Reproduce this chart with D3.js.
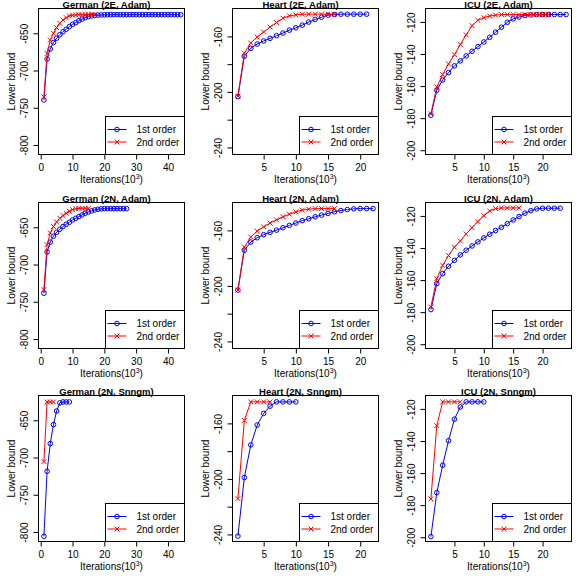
<!DOCTYPE html>
<html><head><meta charset="utf-8">
<script src="https://cdn.jsdelivr.net/npm/d3@7"></script>
<style>body{margin:0;background:#fff}svg{display:block}text{font-family:"Liberation Sans",Arial,Helvetica,sans-serif}</style>
</head><body><div id="chart"></div>
<script>
// ---- data (iterations in thousands: 1,2,3,...) ----
const germanAdam2E_first = [-739.5,-684.5,-671,-662.5,-656.7,-652,-648,-644.6,-641,-638,-635.7,-633,-631,-629,-627.6,-626.7,-626,-625.6,-625.4,-625.2,-625,-625,-625,-625,-625,-625,-625,-625,-625,-625,-625,-625,-625,-625,-625,-625,-625,-625,-625,-625,-625,-625,-625,-625];
const germanAdam2E_second = [-735.5,-677,-659,-650,-642.4,-636.6,-632,-629,-626.7,-625.8,-625.3,-625,-625,-625,-625,-625,-625];
const heartAdam2E_first = [-203.4,-174.3,-168.6,-165.5,-163.3,-161.4,-159.5,-157.6,-155.5,-153.8,-151.9,-149.7,-147.8,-146.2,-144.7,-144.2,-144,-144,-144,-144,-144];
const heartAdam2E_second = [-203,-172,-164.8,-160.5,-156.9,-153.3,-150,-146.9,-145.2,-144.5,-144,-144,-144,-144,-144,-144];
const icuAdam2E_first = [-178.2,-162.6,-156.2,-151.6,-147.4,-144.3,-141.2,-138.3,-135.4,-132.5,-129.6,-126.4,-123.3,-120.2,-118.1,-116.9,-116,-115.6,-115.4,-115.4,-115.4,-115.4,-115.4,-115.4];
const icuAdam2E_second = [-177.2,-160.5,-152.8,-146.2,-140.4,-134.1,-128.1,-122.3,-119,-117.3,-116.3,-115.8,-115.4,-115.4,-115.4,-115.4,-115.4,-115.4,-115.4,-115.4,-115.4];

const germanAdam2N_first = [-738.6,-683,-670,-662,-656.7,-652.7,-649,-646,-643.3,-640.2,-638,-635.7,-633.4,-631.2,-629.4,-628,-626.7,-625.8,-625.3,-625,-625,-625,-625,-625,-625,-625,-625];
const germanAdam2N_second = [-733.7,-673.3,-657.6,-649,-642.8,-638,-634.3,-631.2,-628.5,-626.3,-625,-624.6,-624.5,-624.5,-624.5];
const heartAdam2N_first = [-203,-174.3,-168.4,-165.3,-163.1,-161.4,-159.8,-158.1,-156.4,-154.7,-153,-151.6,-150.2,-149,-147.8,-146.6,-145.7,-145,-144.5,-144.3,-144.3,-144.3];
const heartAdam2N_second = [-203,-172,-164.8,-160.5,-157.4,-154.7,-152.4,-150.2,-148.3,-146.6,-145.4,-144.7,-144.3,-144.3,-144.3,-144.3];
const icuAdam2N_first = [-178.4,-162.2,-156,-151.4,-147.7,-144.3,-141.4,-138.7,-136.2,-133.7,-131.4,-129.1,-127.1,-124.8,-122.5,-120.4,-118.3,-116.7,-115.6,-115.2,-115.2,-115.2,-115.2];
const icuAdam2N_second = [-176.8,-159.1,-150.8,-144.7,-139.5,-135.6,-131.2,-127.3,-123.5,-119.8,-116.9,-115.4,-115,-115,-115,-115];

const germanSnngm2N_first = [-805.7,-718.5,-681.3,-655.8,-637.5,-626.7,-625.4,-625.4,-625.4];
const germanSnngm2N_second = [-705.5,-625.4,-625.4,-625.4];
const heartSnngm2N_first = [-241.2,-199,-175.5,-161.2,-152.8,-147.6,-144.5,-144.5,-144.5,-144.5];
const heartSnngm2N_second = [-214.2,-157.9,-144.5,-144.5,-144.5,-144.5];
const icuSnngm2N_first = [-199.6,-172.2,-155.1,-139.8,-126.4,-118.8,-115.6,-115.6,-115.6,-115.6];
const icuSnngm2N_second = [-176.1,-130.4,-115.6,-115.6,-115.6,-115.6];

// axis limits and ticks per dataset
const germanXlim = [1, 43.5], germanYlim = [-805.5, -624];
const heartXlim = [1, 22], heartYlim = [-241.2, -143.8];
const icuXlim = [1, 24], icuYlim = [-199.3, -115];
const germanXTicks = [0, 10, 20, 30, 40], germanYTicks = [-800, -750, -700, -650];
const heartXTicks = [5, 10, 15, 20], heartYTicks = [-240, -220, -200, -180, -160];
const heartYLabels = [-240, -200, -160];
const icuXTicks = [5, 10, 15, 20], icuYTicks = [-200, -180, -160, -140, -120];

const titles = [
  ["German (2E, Adam)", "Heart (2E, Adam)", "ICU (2E, Adam)"],
  ["German (2N, Adam)", "Heart (2N, Adam)", "ICU (2N, Adam)"],
  ["German (2N, Snngm)", "Heart (2N, Snngm)", "ICU (2N, Snngm)"]
];
const seriesNames = ["1st order", "2nd order"];
const colors = ["#0000FF", "#FF0000"];

const datasets = [
  {xlim: germanXlim, ylim: germanYlim, xt: germanXTicks, yt: germanYTicks, yl: germanYTicks, tshift: -5},
  {xlim: heartXlim, ylim: heartYlim, xt: heartXTicks, yt: heartYTicks, yl: heartYLabels, tshift: -5},
  {xlim: icuXlim, ylim: icuYlim, xt: icuXTicks, yt: icuYTicks, yl: icuYTicks, tshift: 0}
];
const grid = [
  [[germanAdam2E_first, germanAdam2E_second], [heartAdam2E_first, heartAdam2E_second], [icuAdam2E_first, icuAdam2E_second]],
  [[germanAdam2N_first, germanAdam2N_second], [heartAdam2N_first, heartAdam2N_second], [icuAdam2N_first, icuAdam2N_second]],
  [[germanSnngm2N_first, germanSnngm2N_second], [heartSnngm2N_first, heartSnngm2N_second], [icuSnngm2N_first, icuSnngm2N_second]]
];

const W = 581, H = 581, cell = W / 3;
const mL = 38, mT = 8, pw = 146, ph = 146;
const FS = 10;

const svg = d3.select("#chart").append("svg").attr("width", W).attr("height", H);

function expand(l) { const s = l[1] - l[0]; return [l[0] - 0.04 * s, l[1] + 0.04 * s]; }

for (let r = 0; r < 3; r++) {
  for (let c = 0; c < 3; c++) {
    const ds = datasets[c];
    const ox = Math.round(c * cell + mL) + 0.5, oy = Math.round(r * cell + mT) + 0.5;
    const g = svg.append("g").attr("transform", `translate(${ox},${oy})`);
    const x = d3.scaleLinear().domain(expand(ds.xlim)).range([0, pw]);
    const y = d3.scaleLinear().domain(expand(ds.ylim)).range([ph, 0]);

    // x axis
    const gx = g.append("g").attr("transform", `translate(0,${ph})`)
      .call(d3.axisBottom(x).tickValues(ds.xt).tickSize(5).tickPadding(4.5).tickFormat(d3.format("d")));
    gx.select(".domain").remove();
    gx.selectAll("text").attr("font-size", FS).attr("fill", "#000").attr("font-family", "Liberation Sans, Arial, sans-serif");
    gx.selectAll("line").attr("stroke", "#000");

    // y axis
    const gy = g.append("g")
      .call(d3.axisLeft(y).tickValues(ds.yt).tickSize(5).tickFormat(d => ds.yl.includes(d) ? String(d) : ""));
    gy.select(".domain").remove();
    gy.selectAll("line").attr("stroke", "#000");
    gy.selectAll("text").attr("x", null).attr("dy", "0.35em").attr("text-anchor", "middle")
      .attr("transform", "translate(-14,0) rotate(-90)")
      .attr("font-size", FS).attr("fill", "#000").attr("font-family", "Liberation Sans, Arial, sans-serif");

    // lines and markers
    const line = d3.line().x((d, i) => x(i + 1)).y(d => y(d));
    grid[r][c].forEach((vals, si) => {
      g.append("path").datum(vals).attr("d", line).attr("fill", "none")
        .attr("stroke", colors[si]).attr("stroke-width", 1);
      if (si === 0) {
        g.selectAll(null).data(vals).enter().append("circle")
          .attr("cx", (d, i) => x(i + 1)).attr("cy", d => y(d)).attr("r", 2.3)
          .attr("fill", "none").attr("stroke", colors[si]).attr("stroke-width", 1);
      } else {
        const s = 2.4;
        g.selectAll(null).data(vals).enter().append("path")
          .attr("d", (d, i) => { const px = x(i + 1), py = y(d); return `M${px - s},${py - s}L${px + s},${py + s}M${px - s},${py + s}L${px + s},${py - s}`; })
          .attr("stroke", colors[si]).attr("stroke-width", 1).attr("fill", "none");
      }
    });

    // box
    g.append("rect").attr("x", 0).attr("y", 0).attr("width", pw).attr("height", ph)
      .attr("fill", "none").attr("stroke", "#000").attr("stroke-width", 1);

    // legend (bottom right)
    const lw = 79, lh = 38;
    const lg = g.append("g").attr("transform", `translate(${pw - lw},${ph - lh})`);
    lg.append("rect").attr("width", lw).attr("height", lh).attr("fill", "#fff").attr("stroke", "#000").attr("stroke-width", 1);
    seriesNames.forEach((nm, si) => {
      const ly = 13 + si * 12.5;
      lg.append("line").attr("x1", 2).attr("x2", 21).attr("y1", ly).attr("y2", ly).attr("stroke", colors[si]).attr("stroke-width", 1);
      if (si === 0) lg.append("circle").attr("cx", 11.5).attr("cy", ly).attr("r", 2.3).attr("fill", "none").attr("stroke", colors[si]);
      else {
        const s = 2.4;
        lg.append("path").attr("d", `M${11.5 - s},${ly - s}L${11.5 + s},${ly + s}M${11.5 - s},${ly + s}L${11.5 + s},${ly - s}`).attr("stroke", colors[si]);
      }
      lg.append("text").attr("x", 31).attr("y", ly).attr("dy", "0.35em").attr("font-size", FS).text(nm);
    });

    // title
    g.append("text").attr("x", pw / 2 + ds.tshift).attr("y", -1).attr("text-anchor", "middle")
      .attr("font-size", 9.5).attr("font-weight", "bold").text(titles[r][c]);

    // axis titles
    const xl = g.append("text").attr("x", pw / 2).attr("y", ph + 28.5).attr("text-anchor", "middle").attr("font-size", FS);
    xl.append("tspan").text("Iterations(10");
    xl.append("tspan").attr("font-size", 7).attr("dy", -4).text("3");
    xl.append("tspan").attr("dy", 4).text(")");
    g.append("text").attr("transform", `translate(-27,${ph / 2}) rotate(-90)`).attr("dy", "0.35em")
      .attr("text-anchor", "middle").attr("font-size", FS).text("Lower bound");
  }
}
</script></body></html>
